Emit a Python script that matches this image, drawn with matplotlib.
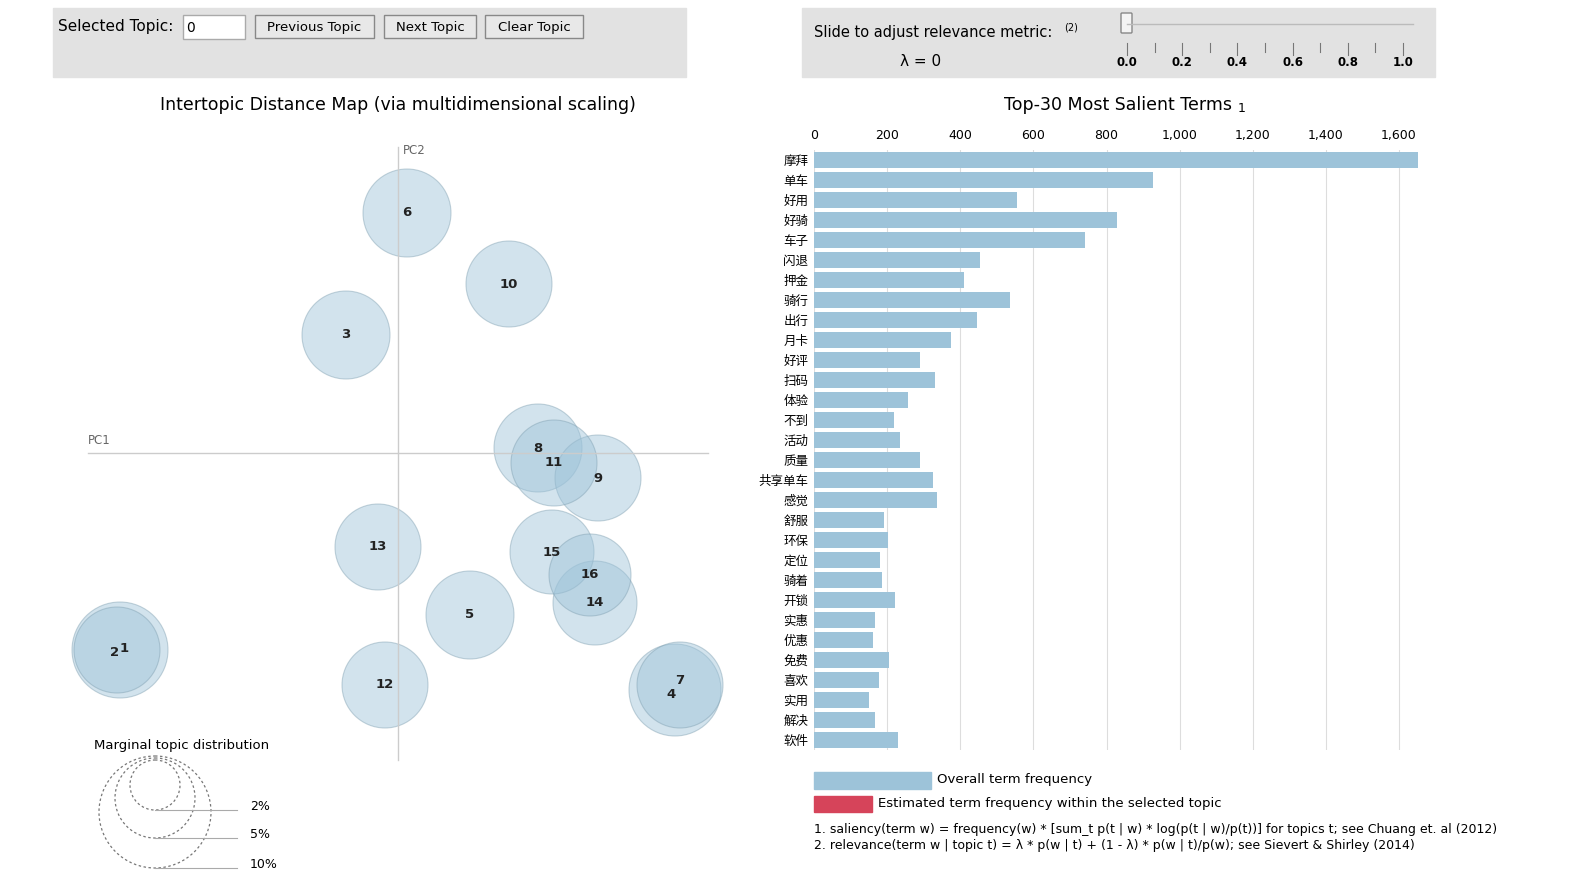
import matplotlib
matplotlib.use("Agg")
import matplotlib.pyplot as plt
from matplotlib.patches import Circle, Rectangle, FancyBboxPatch
import numpy as np

plt.rcParams['font.family'] = ['Noto Sans CJK SC', 'DejaVu Sans']

terms = ["摩拜","单车","好用","好骑","车子","闪退","押金","骑行","出行","月卡","好评","扫码","体验","不到","活动",
         "质量","共享单车","感觉","舒服","环保","定位","骑着","开锁","实惠","优惠","免费","喜欢","实用","解决","软件"]
freq = [1652,927,555,829,741,454,410,536,446,375,290,331,257,219,235,
        290,325,336,191,202,180,186,221,167,161,205,178,150,167,230]

topics = ["1","2","3","4","5","6","7","8","9","10","11","12","13","14","15","16"]
pc1 = [-2.78,-2.81,-0.52,2.77,0.72,0.09,2.82,1.40,2.00,1.11,1.56,-0.13,-0.20,1.97,1.54,1.92]
pc2 = [-1.97,-1.97,1.18,-2.37,-1.62,2.40,-2.32,0.05,-0.25,1.69,-0.10,-2.32,-0.94,-1.50,-0.99,-1.22]
radius = [0.48,0.43,0.44,0.46,0.44,0.44,0.43,0.44,0.43,0.43,0.43,0.43,0.43,0.42,0.42,0.41]

fig = plt.figure(figsize=(15.75, 8.89), dpi=100)
W, H = 1575, 889
def fx(px): return px / W
def fy(py): return 1 - py / H
DJ = 'DejaVu Sans'

ov = fig.add_axes([0, 0, 1, 1], zorder=0)
ov.set_xlim(0, W); ov.set_ylim(H, 0); ov.axis('off')

ov.add_patch(Rectangle((53, 8), 633, 69, color='#e2e2e2'))
ov.add_patch(Rectangle((802, 8), 633, 69, color='#e2e2e2'))
ov.text(58, 27, "Selected Topic:", fontsize=11, va='center', family=DJ)
ov.add_patch(Rectangle((183, 15), 62, 24, facecolor='white', edgecolor='#aaaaaa'))
ov.text(186, 28, "0", fontsize=10, va='center', family=DJ)
for x0, w, lab in [(255, 119, "Previous Topic"), (384, 92, "Next Topic"), (485, 98, "Clear Topic")]:
    ov.add_patch(Rectangle((x0, 15), w, 23, facecolor='#e8e8e8', edgecolor='#888888'))
    ov.text(x0 + w / 2, 27, lab, fontsize=9.5, ha='center', va='center', family=DJ)
ov.text(814, 33, "Slide to adjust relevance metric:", fontsize=10.5, va='center', family=DJ)
ov.text(1064, 27, "(2)", fontsize=7, va='center', family=DJ)
ov.text(900, 62, "λ = 0", fontsize=11, va='center', family=DJ)
ov.plot([1127, 1413], [24, 24], color='#bbbbbb', lw=1)
for i, v in enumerate(np.linspace(0, 1, 11)):
    x = 1127 + i * 27.6
    ov.plot([x, x], [43, 55 if i % 2 == 0 else 52], color='#777777', lw=0.8)
    if i % 2 == 0:
        ov.text(x, 63, f"{v:.1f}", fontsize=8.5, ha='center', va='center', fontweight='bold', family=DJ)
ov.add_patch(FancyBboxPatch((1122, 14), 9, 18, boxstyle='round,pad=1', facecolor='#f4f4f4', edgecolor='#888888'))

ov.text(398, 105, "Intertopic Distance Map (via multidimensional scaling)", fontsize=12.5, ha='center', va='center', family=DJ)
ov.text(1118, 105, "Top-30 Most Salient Terms", fontsize=12.5, ha='center', va='center', family=DJ)
ov.text(1238, 108, "1", fontsize=9, ha='left', va='center', family=DJ)

ov.text(182, 745, "Marginal topic distribution", fontsize=9.5, ha='center', va='center', family=DJ)
for r, lab, yb in [(25, "2%", 810), (40, "5%", 838), (56, "10%", 868)]:
    ov.add_patch(Circle((155, yb - r), r, fill=False, ls=(0, (2, 2)), ec='#777777', lw=0.9))
    ov.plot([155, 237], [yb, yb], color='#aaaaaa', lw=0.8)
    ov.text(250, yb - 4, lab, fontsize=9, va='center', family=DJ)

ov.add_patch(Rectangle((814, 772), 117, 17, color='#9dc3d9'))
ov.text(937, 780, "Overall term frequency", fontsize=9.5, va='center', family=DJ)
ov.add_patch(Rectangle((814, 796), 58, 16, color='#d6445a'))
ov.text(878, 803, "Estimated term frequency within the selected topic", fontsize=9.5, va='center', family=DJ)
ov.text(814, 829, "1. saliency(term w) = frequency(w) * [sum_t p(t | w) * log(p(t | w)/p(t))] for topics t; see Chuang et. al (2012)",
        fontsize=9, va='center', family=DJ)
ov.text(814, 846, "2. relevance(term w | topic t) = λ * p(w | t) + (1 - λ) * p(w | t)/p(w); see Sievert & Shirley (2014)",
        fontsize=9, va='center', family=DJ)

x0p, x1p, y0p, y1p = 60, 730, 140, 765
am = fig.add_axes([fx(x0p), fy(y1p), (x1p - x0p) / W, (y1p - y0p) / H], zorder=1)
am.set_xlim((x0p - 398) / 100, (x1p - 398) / 100)
am.set_ylim((453 - y1p) / 100, (453 - y0p) / 100)
am.axis('off')
am.plot([(88 - 398) / 100, (708 - 398) / 100], [0, 0], color='#cccccc', lw=1)
am.plot([0, 0], [(453 - 760) / 100, (453 - 147) / 100], color='#cccccc', lw=1)
am.text((88 - 398) / 100, 0.06, "PC1", fontsize=8.5, color='#666666', va='bottom', family=DJ)
am.text(0.05, (453 - 150) / 100, "PC2", fontsize=8.5, color='#666666', va='center', family=DJ)
for t, x, y, r in zip(topics, pc1, pc2, radius):
    am.add_patch(Circle((x, y), r, facecolor='#9dc3d9', alpha=0.45, edgecolor='#7f9fb0', lw=0.8))
offs = {"1": (0.04, 0.02), "2": (-0.02, -0.02), "4": (-0.04, -0.05), "7": (0.0, 0.05)}
for t, x, y in zip(topics, pc1, pc2):
    dx, dy = offs.get(t, (0, 0))
    am.text(x + dx, y + dy, t, fontsize=9.5, fontweight='bold', ha='center', va='center', color='#222222', family=DJ)

ab = fig.add_axes([fx(814), fy(750), (1440 - 814) / W, (750 - 150) / H], zorder=1)
scale = 1600 / (1399 - 814)
ab.set_xlim(0, (1440 - 814) * scale)
y = np.arange(len(terms))
ab.barh(y, freq, height=0.8, color='#9dc3d9', zorder=2)
ab.set_ylim(len(terms) - 0.5, -0.5)
ab.set_yticks(y); ab.set_yticklabels(terms, fontsize=9)
ab.set_xticks(np.arange(0, 1601, 200))
ab.set_xticklabels([f"{v:,}" for v in range(0, 1601, 200)], fontsize=9, family=DJ)
ab.xaxis.tick_top()
ab.tick_params(length=0, pad=6)
ab.tick_params(axis='y', pad=4)
for s in ab.spines.values(): s.set_visible(False)
ab.grid(axis='x', color='#dddddd', lw=0.8, zorder=0)
ab.set_axisbelow(True)

fig.savefig("out.png", dpi=100)
